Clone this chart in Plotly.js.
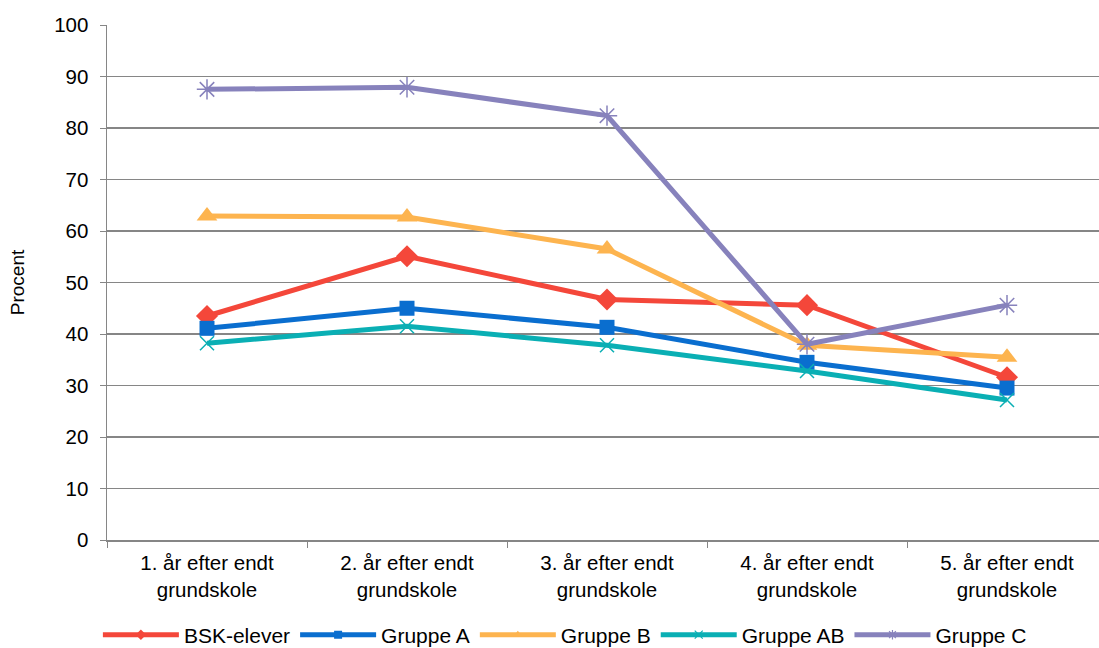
<!DOCTYPE html>
<html>
<head>
<meta charset="utf-8">
<script src="https://cdn.plot.ly/plotly-3.0.1.min.js"></script>
<style>html,body{margin:0;padding:0;background:#fff;}#chart{width:1099px;height:648px;}</style>
</head>
<body>
<div id="chart"></div>
<script>
const categories = ["1. år efter endt<br>grundskole", "2. år efter endt<br>grundskole", "3. år efter endt<br>grundskole", "4. år efter endt<br>grundskole", "5. år efter endt<br>grundskole"];
const seriesNames = ["BSK-elever", "Gruppe A", "Gruppe B", "Gruppe AB", "Gruppe C"];
const bskElever = [43.5, 55.1, 46.7, 45.6, 31.6];
const gruppeA = [41.1, 45.0, 41.3, 34.5, 29.5];
const gruppeB = [62.9, 62.7, 56.5, 37.8, 35.5];
const gruppeAB = [38.2, 41.5, 37.8, 32.8, 27.2];
const gruppeC = [87.5, 87.9, 82.4, 38.0, 45.6];
const yTicks = [0, 10, 20, 30, 40, 50, 60, 70, 80, 90, 100];

const styles = [
  {color: '#F4473A', symbol: 'diamond', size: 17, outline: false},
  {color: '#0A6ECF', symbol: 'square', size: 15, outline: false},
  {color: '#FDB44F', symbol: 'triangle-up', size: 18, outline: false},
  {color: '#0AAFB4', symbol: 'x-thin', size: 14, outline: true},
  {color: '#8782BC', symbol: 'asterisk-open', size: 17, outline: true}
];
const values = [bskElever, gruppeA, gruppeB, gruppeAB, gruppeC];

const data = [];
values.forEach(function (y, i) {
  const s = styles[i];
  data.push({type: 'scatter', mode: 'lines+markers', name: seriesNames[i], x: categories, y: y,
    showlegend: false, cliponaxis: false,
    line: {color: s.color, width: 5},
    marker: {symbol: s.symbol, size: s.size, color: s.color,
      line: s.outline ? {color: s.color, width: 1.5} : {width: 0}}});
});
// legend entries with small markers, like the original legend
values.forEach(function (y, i) {
  const s = styles[i];
  data.push({type: 'scatter', mode: 'lines+markers', name: seriesNames[i], x: [categories[0]], y: [null],
    showlegend: true, hoverinfo: 'skip',
    line: {color: s.color, width: 5},
    marker: {symbol: s.symbol, size: 8, color: s.color,
      line: s.outline ? {color: s.color, width: 1.2} : {width: 0}}});
});

const layout = {
  width: 1099, height: 648,
  margin: {l: 107, r: 0, t: 25, b: 108, autoexpand: false},
  paper_bgcolor: '#fff', plot_bgcolor: '#fff',
  font: {family: 'Liberation Sans, Arial, sans-serif', size: 20, color: '#000'},
  showlegend: true,
  legend: {orientation: 'h', xref: 'container', x: 0.514, xanchor: 'center',
    yref: 'container', y: 0.02, yanchor: 'middle',
    font: {size: 21}, traceorder: 'normal', itemwidth: 76},
  xaxis: {type: 'category', range: [-0.5, 4.46], tickson: 'boundaries', ticks: 'outside', ticklen: 6,
    tickcolor: '#868686', showline: true, linecolor: '#868686', linewidth: 1.5, showgrid: false,
    zeroline: false, tickfont: {size: 20.5}, ticklabelstandoff: 4, automargin: false, fixedrange: true},
  yaxis: {range: [0, 100], tickvals: yTicks, ticktext: yTicks.map(String), ticks: 'outside', ticklen: 6,
    tickcolor: '#868686', showline: true, linecolor: '#868686', linewidth: 1.5,
    showgrid: true, gridcolor: '#868686', gridwidth: 1.4, zeroline: false, automargin: false,
    ticklabelstandoff: 7,
    tickfont: {size: 20.5}, title: {text: 'Procent', font: {size: 19}, standoff: 24}}
};

Plotly.newPlot('chart', data, layout, {displayModeBar: false, staticPlot: true});
</script>
</body>
</html>
